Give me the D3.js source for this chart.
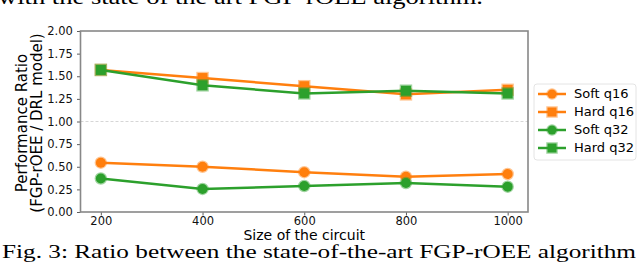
<!DOCTYPE html>
<html>
<head>
<meta charset="utf-8">
<script src="https://cdn.jsdelivr.net/npm/d3@7"></script>
<style>
  body { margin: 0; background: #fff; }
  svg { display: block; }
</style>
</head>
<body>
<div id="chart"></div>
<script>
/* performance ratio vs circuit size */

const sizes = [200, 400, 600, 800, 1000];
const softQ16 = [0.545, 0.50, 0.44, 0.39, 0.42];
const hardQ16 = [1.57, 1.48, 1.39, 1.30, 1.35];
const softQ32 = [0.37, 0.255, 0.287, 0.32, 0.28];
const hardQ32 = [1.57, 1.40, 1.31, 1.34, 1.31];
const yTicks = [0, 0.25, 0.5, 0.75, 1.0, 1.25, 1.5, 1.75, 2.0];

const series = [
  { name: "Soft q16", values: softQ16, color: "#ff7f0e", shape: "circle" },
  { name: "Hard q16", values: hardQ16, color: "#ff7f0e", shape: "square" },
  { name: "Soft q32", values: softQ32, color: "#2ca02c", shape: "circle" },
  { name: "Hard q32", values: hardQ32, color: "#2ca02c", shape: "square" }
];

let width = 640,
    height = 270,
    margin = ({ top: 31, right: 112, bottom: 58, left: 80.5 });

const svg = d3.select("#chart")
  .append("svg")
  .attr("width", width)
  .attr("height", height);

// caption texts from the paper
svg.append("text")
  .attr("x", -2).attr("y", 4)
  .attr("font-family", "Liberation Serif, serif")
  .attr("font-size", 20)
  .attr("textLength", 485)
  .attr("lengthAdjust", "spacingAndGlyphs")
  .text("with the state of the art FGP-rOEE algorithm.");

svg.append("text")
  .attr("x", 2).attr("y", 257.5)
  .attr("font-family", "Liberation Serif, serif")
  .attr("font-size", 19.5)
  .attr("textLength", 634)
  .attr("lengthAdjust", "spacingAndGlyphs")
  .text("Fig. 3: Ratio between the state-of-the-art FGP-rOEE algorithm");

let x = d3.scaleLinear()
  .domain([160, 1040])
  .range([margin.left, width - margin.right]);

let y = d3.scaleLinear()
  .domain([0, 2])
  .range([height - margin.bottom, margin.top]);

const font = "DejaVu Sans, sans-serif";

// reference line at 1
svg.append("line")
  .attr("x1", x.range()[0]).attr("x2", x.range()[1])
  .attr("y1", y(1)).attr("y2", y(1))
  .attr("stroke", "#ccc")
  .attr("stroke-width", 0.8)
  .attr("stroke-dasharray", "3,2");

let xAxis = svg.append("g")
  .attr("transform", `translate(0,${y(0)})`)
  .call(d3.axisBottom(x).tickValues(sizes).tickFormat(d3.format("d")).tickSize(3.5).tickSizeOuter(0));

let yAxis = svg.append("g")
  .attr("transform", `translate(${x.range()[0]},0)`)
  .call(d3.axisLeft(y).tickValues(yTicks).tickFormat(d3.format(".2f")).tickSize(3.5).tickSizeOuter(0));

for (let g of [xAxis, yAxis]) {
  g.select(".domain").remove();
  g.selectAll("line").attr("stroke", "#333").attr("stroke-width", 0.8);
  g.selectAll("text").attr("font-family", font).attr("font-size", 11.5).attr("fill", "#111");
}
xAxis.selectAll("text").attr("dy", "0.6em");
yAxis.selectAll("text").attr("dx", "-0.1em");

// frame
svg.append("rect")
  .attr("x", x.range()[0]).attr("y", y(2))
  .attr("width", x.range()[1] - x.range()[0])
  .attr("height", y(0) - y(2))
  .attr("fill", "none")
  .attr("stroke", "#888")
  .attr("stroke-width", 1.6);

let line = d3.line()
  .x((d, i) => x(sizes[i]))
  .y(d => y(d));

function marker(g, shape, cx, cy, color, s) {
  let m;
  if (shape === "circle") {
    m = g.append("circle").attr("cx", cx).attr("cy", cy).attr("r", s);
  } else {
    m = g.append("rect").attr("x", cx - s).attr("y", cy - s)
      .attr("width", 2 * s).attr("height", 2 * s);
  }
  m.attr("fill", color)
    .attr("stroke", color)
    .attr("stroke-opacity", 0.45)
    .attr("stroke-width", 2.5);
}

for (let s of series) {
  let g = svg.append("g");
  g.append("path")
    .datum(s.values)
    .attr("fill", "none")
    .attr("stroke", s.color)
    .attr("stroke-width", 2.5)
    .attr("d", line);
  s.values.forEach((v, i) => marker(g, s.shape, x(sizes[i]), y(v), s.color, 5));
}

// axis titles
svg.append("text")
  .attr("x", (x.range()[0] + x.range()[1]) / 2)
  .attr("y", 240)
  .attr("text-anchor", "middle")
  .attr("font-family", font)
  .attr("font-size", 14)
  .text("Size of the circuit");

let yl = svg.append("text")
  .attr("transform", `translate(0,123) rotate(-90)`)
  .attr("text-anchor", "middle")
  .attr("font-family", font)
  .attr("font-size", 15);
yl.append("tspan").attr("x", 0).attr("y", 27).text("Performance Ratio");
yl.append("tspan").attr("x", 0).attr("y", 42).text("(FGP-rOEE / DRL model)");

// legend
let lg = svg.append("g").attr("transform", "translate(534,84)");
lg.append("rect")
  .attr("width", 102).attr("height", 76)
  .attr("rx", 3)
  .attr("fill", "#fff")
  .attr("stroke", "#ddd")
  .attr("stroke-width", 0.8);

series.forEach((s, i) => {
  let yy = 10 + i * 18;
  lg.append("line")
    .attr("x1", 4).attr("x2", 32)
    .attr("y1", yy).attr("y2", yy)
    .attr("stroke", s.color)
    .attr("stroke-width", 2.5);
  marker(lg, s.shape, 18, yy, s.color, 4.5);
  lg.append("text")
    .attr("x", 40).attr("y", yy)
    .attr("dominant-baseline", "middle")
    .attr("font-family", font)
    .attr("font-size", 13)
    .text(s.name);
});
</script>
</body>
</html>
